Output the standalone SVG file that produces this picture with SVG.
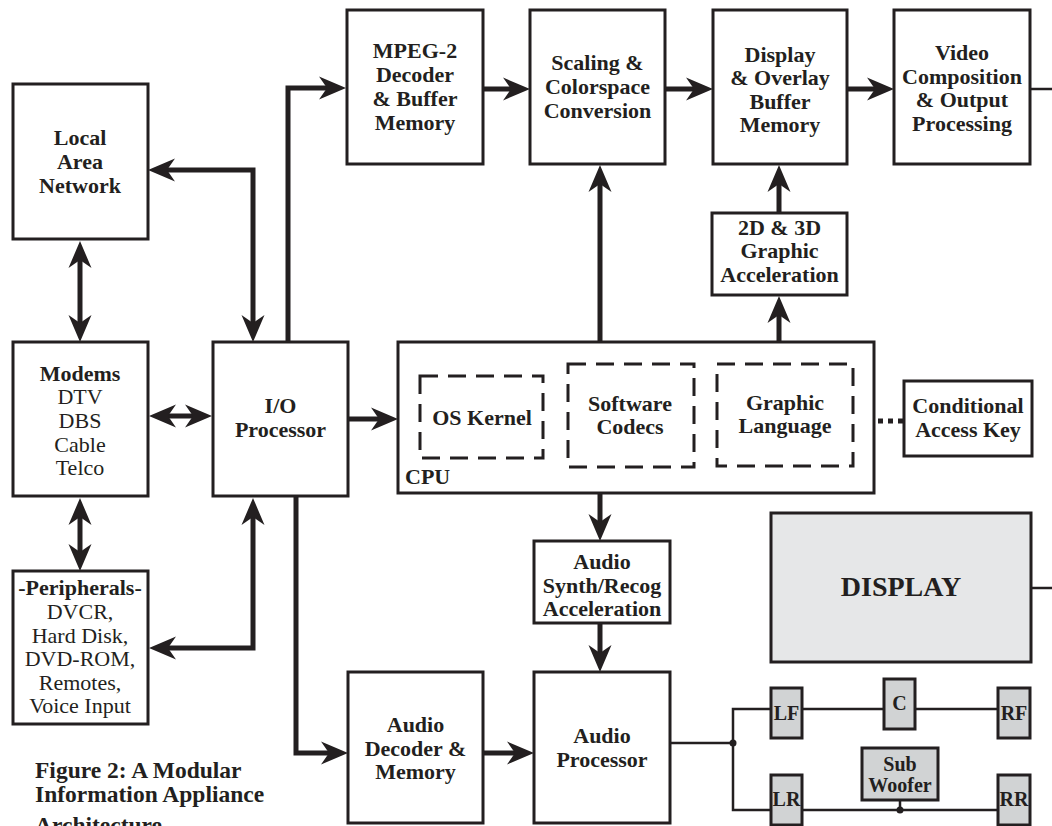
<svg xmlns="http://www.w3.org/2000/svg" width="1052" height="826" viewBox="0 0 1052 826">
<style>
.box{fill:#ffffff;stroke:#231f20;stroke-width:3}
.dash{fill:none;stroke:#231f20;stroke-width:3;stroke-dasharray:18 10}
.disp{fill:#e6e7e8;stroke:#231f20;stroke-width:3}
.spk{fill:#d1d3d4;stroke:#231f20;stroke-width:3}
.t{font-family:"Liberation Serif","Times New Roman",serif;font-weight:bold;font-size:22px;fill:#231f20;text-anchor:middle}
.r{font-weight:normal}
.s{font-size:20px}
.big{font-size:28px}
.cap{font-family:"Liberation Serif","Times New Roman",serif;font-weight:bold;font-size:23.5px;fill:#231f20}
.a{fill:none;stroke:#231f20;stroke-width:5}
.w{fill:none;stroke:#231f20;stroke-width:2.5}
</style>
<defs>
<marker id="ah" markerUnits="userSpaceOnUse" orient="auto-start-reverse" viewBox="-30 -15 45 30" markerWidth="45" markerHeight="30" refX="0" refY="0" overflow="visible">
<path d="M10,0 L-17,-11.5 L-9,0 L-17,11.5 Z" fill="#231f20"/>
</marker>
</defs>

<g id="connectors">
<path class="a" d="M253,332 V170 H158" marker-start="url(#ah)" marker-end="url(#ah)"/>
<path class="a" d="M288,342 V88 H336" marker-end="url(#ah)"/>
<path class="a" d="M80,251 V332" marker-start="url(#ah)" marker-end="url(#ah)"/>
<path class="a" d="M159,416 H202" marker-start="url(#ah)" marker-end="url(#ah)"/>
<path class="a" d="M348,419 H388" marker-end="url(#ah)"/>
<path class="a" d="M80,508 V561" marker-start="url(#ah)" marker-end="url(#ah)"/>
<path class="a" d="M253,508 V648 H159" marker-start="url(#ah)" marker-end="url(#ah)"/>
<path class="a" d="M296,496 V753 H338" marker-end="url(#ah)"/>
<path class="a" d="M483,89 H520" marker-end="url(#ah)"/>
<path class="a" d="M665,89 H703" marker-end="url(#ah)"/>
<path class="a" d="M847,89 H884" marker-end="url(#ah)"/>
<path class="w" d="M1030,89 H1052"/>
<path class="a" d="M600,342 V175" marker-end="url(#ah)"/>
<path class="a" d="M779,342 V306" marker-end="url(#ah)"/>
<path class="a" d="M779,213 V175" marker-end="url(#ah)"/>
<path class="a" d="M600,493 V531" marker-end="url(#ah)"/>
<path class="a" d="M600,623 V662" marker-end="url(#ah)"/>
<path class="a" d="M483,753 H524" marker-end="url(#ah)"/>
<path d="M878,421 H904" fill="none" stroke="#231f20" stroke-width="5" stroke-dasharray="5 5"/>
<path class="w" d="M1031,588 H1052"/>
<path class="w" d="M670,743 H733"/>
<path class="w" d="M771,709 H733 V810 H998"/>
<path class="w" d="M802,709 H884"/>
<path class="w" d="M915,709 H998"/>
<path class="w" d="M900,800 V810"/>
<circle cx="733" cy="743" r="3.5" fill="#231f20"/>
<circle cx="900" cy="810" r="3.5" fill="#231f20"/>
</g>

<g id="lan">
<rect class="box" x="13" y="84" width="135" height="155"/>
<text class="t" x="80" y="145">Local</text>
<text class="t" x="80" y="169">Area</text>
<text class="t" x="80" y="193">Network</text>
</g>

<g id="modems">
<rect class="box" x="13" y="342" width="135" height="154"/>
<text class="t" x="80" y="381">Modems</text>
<text class="t r" x="80" y="404">DTV</text>
<text class="t r" x="80" y="428">DBS</text>
<text class="t r" x="80" y="452">Cable</text>
<text class="t r" x="80" y="475">Telco</text>
</g>

<g id="peripherals">
<rect class="box" x="13" y="571" width="135" height="153"/>
<text class="t" x="80" y="595">-Peripherals-</text>
<text class="t r" x="80" y="619">DVCR,</text>
<text class="t r" x="80" y="643">Hard Disk,</text>
<text class="t r" x="80" y="666">DVD-ROM,</text>
<text class="t r" x="80" y="690">Remotes,</text>
<text class="t r" x="80" y="713">Voice Input</text>
</g>

<g id="io">
<rect class="box" x="213" y="342" width="135" height="154"/>
<text class="t" x="280.5" y="413">I/O</text>
<text class="t" x="280.5" y="437">Processor</text>
</g>

<g id="mpeg">
<rect class="box" x="347" y="10" width="136" height="154"/>
<text class="t" x="415" y="58">MPEG-2</text>
<text class="t" x="415" y="82">Decoder</text>
<text class="t" x="415" y="106">&amp; Buffer</text>
<text class="t" x="415" y="130">Memory</text>
</g>

<g id="scaling">
<rect class="box" x="530" y="10" width="135" height="154"/>
<text class="t" x="597.5" y="70">Scaling &amp;</text>
<text class="t" x="597.5" y="94">Colorspace</text>
<text class="t" x="597.5" y="118">Conversion</text>
</g>

<g id="displaybuffer">
<rect class="box" x="713" y="10" width="134" height="154"/>
<text class="t" x="780" y="62">Display</text>
<text class="t" x="780" y="85">&amp; Overlay</text>
<text class="t" x="780" y="109">Buffer</text>
<text class="t" x="780" y="132">Memory</text>
</g>

<g id="video">
<rect class="box" x="894" y="10" width="136" height="154"/>
<text class="t" x="962" y="60">Video</text>
<text class="t" x="962" y="84">Composition</text>
<text class="t" x="962" y="107">&amp; Output</text>
<text class="t" x="962" y="131">Processing</text>
</g>

<g id="graphics2d3d">
<rect class="box" x="712" y="213" width="135" height="82"/>
<text class="t" x="779.5" y="235">2D &amp; 3D</text>
<text class="t" x="779.5" y="258">Graphic</text>
<text class="t" x="779.5" y="282">Acceleration</text>
</g>

<g id="cpu">
<rect class="box" x="398" y="342" width="476" height="151"/>
<text class="t" x="405" y="484" text-anchor="start" style="text-anchor:start">CPU</text>
<rect class="dash" x="420" y="376" width="123" height="82"/>
<text class="t" x="482" y="425">OS Kernel</text>
<rect class="dash" x="568" y="364" width="126" height="103"/>
<text class="t" x="630" y="411">Software</text>
<text class="t" x="630" y="434">Codecs</text>
<rect class="dash" x="717" y="364" width="136" height="102"/>
<text class="t" x="785" y="410">Graphic</text>
<text class="t" x="785" y="433">Language</text>
</g>

<g id="conditional">
<rect class="box" x="904" y="381" width="128" height="75"/>
<text class="t" x="968" y="413">Conditional</text>
<text class="t" x="968" y="437">Access Key</text>
</g>

<g id="audiosynth">
<rect class="box" x="534" y="541" width="136" height="82"/>
<text class="t" x="602" y="569">Audio</text>
<text class="t" x="602" y="593">Synth/Recog</text>
<text class="t" x="602" y="616">Acceleration</text>
</g>

<g id="audiodecoder">
<rect class="box" x="348" y="672" width="135" height="151"/>
<text class="t" x="415.5" y="732">Audio</text>
<text class="t" x="415.5" y="756">Decoder &amp;</text>
<text class="t" x="415.5" y="779">Memory</text>
</g>

<g id="audioprocessor">
<rect class="box" x="534" y="672" width="136" height="151"/>
<text class="t" x="602" y="743">Audio</text>
<text class="t" x="602" y="767">Processor</text>
</g>

<g id="display">
<rect class="disp" x="771" y="513" width="260" height="149"/>
<text class="t big" x="901" y="596">DISPLAY</text>
</g>

<g id="lf">
<rect class="spk" x="771" y="688" width="31" height="50"/>
<text class="t s" x="786.5" y="720">LF</text>
</g>
<g id="c">
<rect class="spk" x="884" y="679" width="31" height="50"/>
<text class="t s" x="899.5" y="710">C</text>
</g>
<g id="rf">
<rect class="spk" x="998" y="688" width="32" height="50"/>
<text class="t s" x="1014" y="720">RF</text>
</g>
<g id="lr">
<rect class="spk" x="771" y="775" width="31" height="50"/>
<text class="t s" x="786.5" y="806">LR</text>
</g>
<g id="rr">
<rect class="spk" x="998" y="775" width="32" height="50"/>
<text class="t s" x="1014" y="806">RR</text>
</g>
<g id="subwoofer">
<rect class="spk" x="862" y="748" width="76" height="52"/>
<text class="t s" x="900" y="771">Sub</text>
<text class="t s" x="900" y="792">Woofer</text>
</g>

<g id="caption">
<text class="cap" x="35" y="778">Figure 2: A Modular</text>
<text class="cap" x="35" y="802">Information Appliance</text>
<text class="cap" x="35" y="833">Architecture</text>
</g>
</svg>
